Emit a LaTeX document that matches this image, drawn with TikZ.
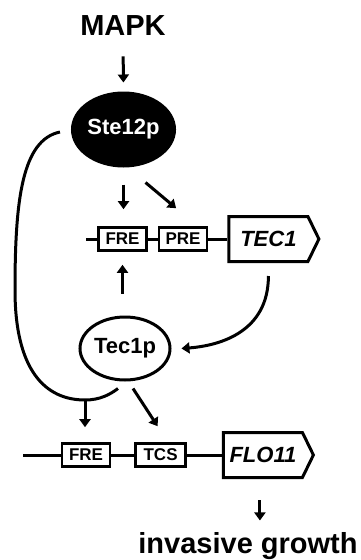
\documentclass[tikz,border=0pt]{standalone}
\usepackage{fontspec}
\setmainfont{Liberation Sans}
\usepackage{tikz}
\usetikzlibrary{positioning,arrows.meta,shapes.geometric,shapes.symbols}

\begin{document}
\begin{tikzpicture}[x=1pt,y=-1pt,line width=3pt,
  arr/.style={-{Triangle[length=8pt,width=11pt]}},
  protein/.style={ellipse,draw,inner sep=0pt,font=\fontsize{22}{22}\selectfont\bfseries},
  site/.style={rectangle,draw,line width=2.6pt,minimum width=48pt,minimum height=23pt,inner sep=0pt,font=\fontsize{17}{17}\selectfont\bfseries},
  gene/.style={signal,signal to=east,signal pointer angle=128,draw,minimum width=90pt,minimum height=45pt,inner sep=0pt,font=\fontsize{22}{22}\selectfont\bfseries\itshape},
  headtext/.style={inner sep=0pt,font=\fontsize{29}{29}\selectfont\bfseries}]
  \useasboundingbox (0,0) rectangle (360,560);
  \node[headtext] (mapk) at (123,26) {MAPK};
  \node[protein,fill=black,text=white,minimum width=89pt,minimum height=73pt] (ste) at (123.5,129.5) {Ste12p};
  \node[site] (fre1) at (122.5,239) {FRE};
  \node[site,right=10pt of fre1] (pre1) {PRE};
  \node[gene,right=19pt of pre1] (tec1) {TEC1};
  \node[protein,minimum width=90pt,minimum height=63pt] (tec) at (125,348.5) {Tec1p};
  \node[site] (fre2) at (86,455) {FRE};
  \node[site,right=23pt of fre2,minimum width=50pt] (tcs) {TCS};
  \node[gene,right=35pt of tcs] (flo11) {FLO11};
  \node[headtext,anchor=base] (inv) at (248,553) {invasive growth};
  \coordinate (start1) at (86,239);
  \coordinate (start2) at (23,455);
  \coordinate (junc) at (85,400);
  \draw (start1) -- (fre1.west) (fre1.east) -- (pre1.west) (pre1.east) -- (tec1.west);
  \draw (start2) -- (fre2.west) (fre2.east) -- (tcs.west) (tcs.east) -- (flo11.west);
  \draw[arr,shorten <=19pt,shorten >=9pt] (mapk.south) -- (ste.north);
  \draw[arr,shorten <=17pt,shorten >=17pt] (ste.south) -- (ste.south |- fre1.north);
  \draw[arr] ([xshift=22pt,yshift=-53pt]ste.center) -- ([xshift=-7pt,yshift=18pt]pre1.north);
  \draw[arr,shorten <=22pt,shorten >=13pt] (tec.north -| fre1.south) -- (fre1.south);
  \draw[arr] ([yshift=-13pt]tec1.south) .. controls +(0,55) and +(40,-3) .. ([xshift=10pt]tec.east);
  \draw ([xshift=-11pt,yshift=-2.5pt]ste.west) .. controls +(-38,8) and +(0,-90) .. (15,290)
    .. controls +(0,80) and +(-40,0) .. (junc)
    .. controls +(15,0) and +(-8,6) .. ([xshift=-7pt,yshift=-7pt]tec.south);
  \draw[arr,shorten >=15pt] (junc) -- (junc |- fre2.north);
  \draw[arr] ([xshift=8pt,yshift=-7pt]tec.south) -- ([xshift=-3pt,yshift=16pt]tcs.north);
  \draw[arr,shorten <=21pt,shorten >=10pt] ([xshift=-3pt]flo11.south) -- ([xshift=-3pt]flo11.south |- inv.north);
\end{tikzpicture}
\end{document}
